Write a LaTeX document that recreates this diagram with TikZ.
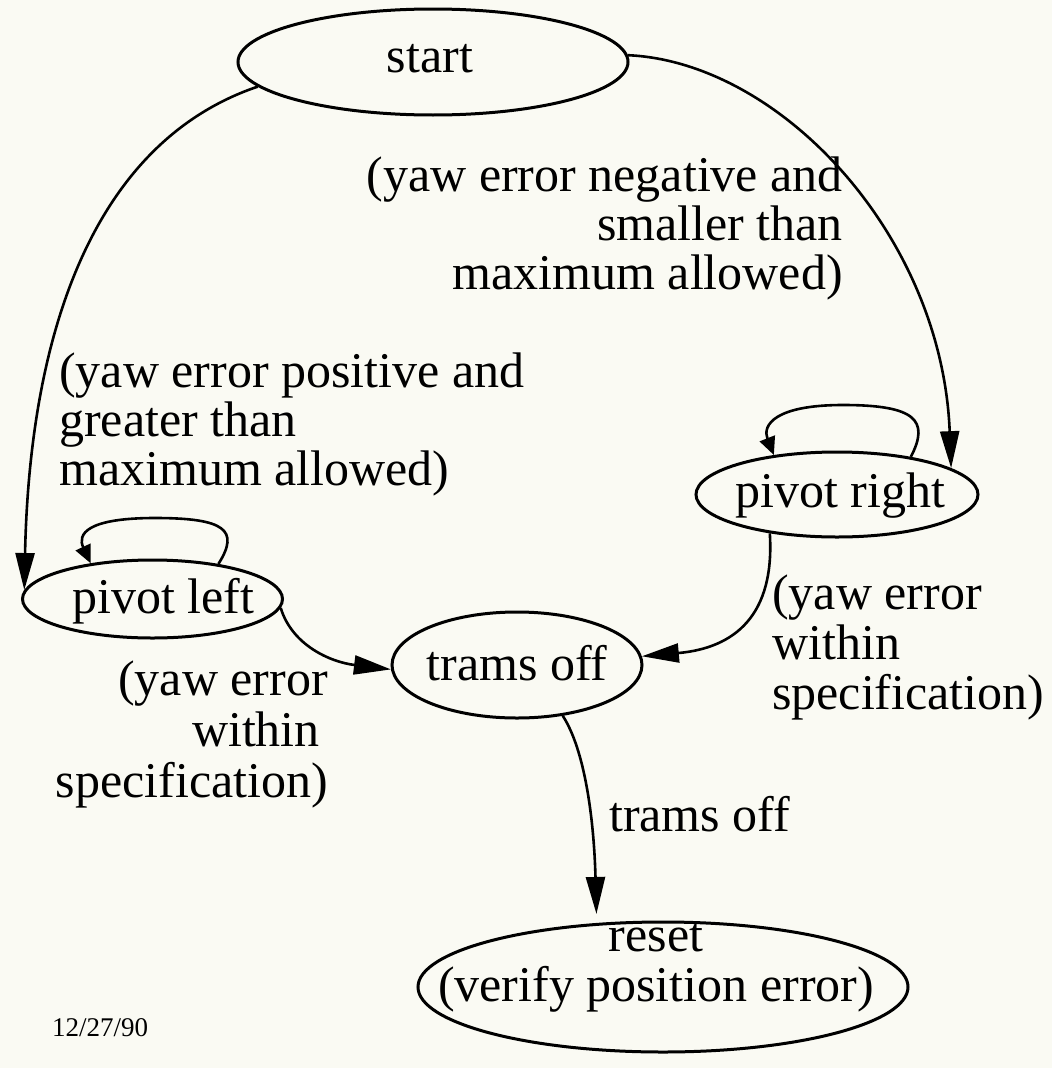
\documentclass[tikz,border=0pt]{standalone}
\usepackage{fontspec}
\setmainfont{Liberation Serif}
\usetikzlibrary{arrows.meta,shapes.geometric}
\definecolor{paper}{RGB}{250,250,243}
% text placed at a node centre with a given offset, taking no room itself
\newcommand\placetext[3]{\raisebox{#2}[0pt][0pt]{\makebox[0pt][c]{\hspace*{#1}\hspace*{#1}#3}}}
\begin{document}
\begin{tikzpicture}[x=1pt,y=-1pt,
  every node/.style={font=\fontsize{50pt}{50pt}\selectfont},
  state/.style={ellipse,draw,line width=3pt,inner sep=0pt},
  edge/.style={-{Triangle[length=37pt,width=19pt]},line width=2.6pt},
  loopedge/.style={-{Triangle[length=18pt,width=16pt]},line width=2.6pt},
  lbl/.style={inner sep=0pt}]
\fill[paper] (0,0) rectangle (1052,1068);
\useasboundingbox (0,0) rectangle (1052,1068);

% states
\node[state,minimum width=390pt,minimum height=106pt] (start) at (433,62) {\placetext{-3pt}{-10pt}{start}};
\node[state,minimum width=282pt,minimum height=85pt] (pr) at (837,494.5) {\placetext{3pt}{-13pt}{pivot right}};
\node[state,minimum width=260pt,minimum height=78pt] (pl) at (152.5,599) {\placetext{11pt}{-14pt}{pivot left}};
\node[state,minimum width=250pt,minimum height=106pt] (to) at (517,665) {\placetext{0pt}{-15pt}{trams off}};
\node[state,minimum width=490pt,minimum height=130pt] (reset) at (663,987)
  {\placetext{-7pt}{36pt}{\begin{tabular}[t]{@{}c@{}}reset\\(verify position error)\end{tabular}}};

% tops of the self loops
\coordinate (plTop) at (155,518);
\coordinate (prTop) at (843,405);

% transitions
\draw[edge] (start.188) .. controls (100,140) and (30,320) .. (pl.176);
\draw[edge] (start.2) .. controls (780,62) and (942,235) .. (pr.13);
\draw[loopedge] (pl.28) .. controls (240,530) and (225,518) .. (plTop)
  .. controls (87,518) and (77,534) .. (pl.150);
\draw[loopedge] (pr.27) .. controls (930,420) and (915,405) .. (prTop)
  .. controls (775,405) and (762,425) .. (pr.148);
\draw[edge] (pl.-4) .. controls (292,645) and (330,662) .. (to.182);
\draw[edge] (pr.210) .. controls (775,615) and (735,648) .. (to.4);
\draw[edge,shorten >=9pt] (to.-48) .. controls (585,750) and (594,820) .. (reset.136);

% transition labels
\node[lbl,anchor=base east,font=\fontsize{50pt}{48pt}\selectfont] (negLabel) at (843,191)
  {\begin{tabular}[t]{@{}r@{}}(yaw error negative and\\smaller than\\maximum allowed)\end{tabular}};
\node[lbl,anchor=base west,font=\fontsize{50pt}{48pt}\selectfont] (posLabel) at (59,387)
  {\begin{tabular}[t]{@{}l@{}}(yaw error positive and\\greater than\\maximum allowed)\end{tabular}};
\node[lbl,anchor=base east,font=\fontsize{50pt}{51pt}\selectfont] (leftSpec) at (328,695)
  {\begin{tabular}[t]{@{}r@{}}(yaw error\\within\hspace*{8pt}\\specification)\end{tabular}};
\node[lbl,anchor=base west,font=\fontsize{50pt}{50pt}\selectfont] (rightSpec) at (772,609)
  {\begin{tabular}[t]{@{}l@{}}(yaw error\\within\\specification)\end{tabular}};
\node[lbl,anchor=base west] (tramsLabel) at (609,831) {trams off};

% date
\node[lbl,anchor=base west,font=\fontsize{27pt}{27pt}\selectfont] (date) at (52,1036) {12/27/90};
\end{tikzpicture}
\end{document}
